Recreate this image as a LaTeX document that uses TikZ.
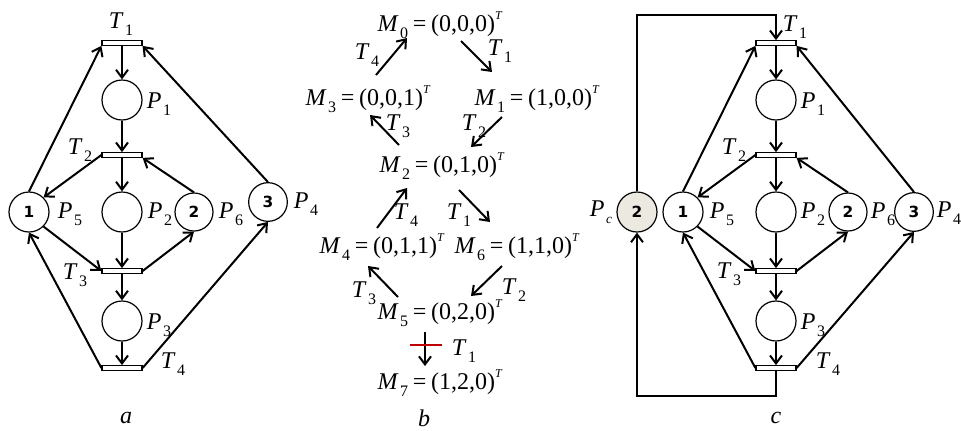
\documentclass[tikz,border=0pt]{standalone}
\usepackage{fontspec}
\setmainfont{Liberation Serif}
\newfontfamily\tokfont{DejaVu Sans}
\usetikzlibrary{arrows.meta}
\definecolor{blockred}{HTML}{C00000}
\definecolor{pcfill}{HTML}{ECE9E0}
\newcommand\sy[2]{\textit{#1}\kern1.2pt\raisebox{-5.5pt}{\fontsize{12}{12}\selectfont #2}}
\newcommand\mk[2]{\sy{M}{#1}\kern3.5pt=\kern3.5pt(#2)\raisebox{9pt}{\fontsize{9}{9}\selectfont\textit{T}}}
\begin{document}
\begin{tikzpicture}[x=0.75pt,y=-0.75pt,
  place/.style={circle,draw,line width=0.9pt,minimum size=30pt,inner sep=0pt,font=\tokfont\bfseries\fontsize{11.5}{11.5}\selectfont},
  trans/.style={rectangle,draw,line width=0.9pt,fill=white,minimum width=30pt,minimum height=3.4pt,inner sep=0pt},
  arc/.style={line width=1.5pt,-{Straight Barb[length=6pt,width=9pt,line width=1.5pt]}},
  lab/.style={font=\fontsize{18}{20}\selectfont,inner sep=0pt},
  blockbar/.style={draw=blockred,line width=2pt},
]
\useasboundingbox (0,0) rectangle (961,430);

% ---------------- panel a ----------------
\node[trans] (a1) at (122,43) {};
\node[place] (ap1) at (122,100) {};
\node[trans] (a2) at (122,155) {};
\node[place] (ap5) at (29,212) {1};
\node[place] (ap2) at (122,212) {};
\node[place,minimum size=28.5pt] (ap6) at (194,212) {2};
\node[place,minimum size=29pt] (ap4) at (268,202) {3};
\node[trans] (a3) at (122,271) {};
\node[place] (ap3) at (122,321) {};
\node[trans] (a4) at (122,368) {};

\draw[arc] (a1) -- (ap1);
\draw[arc] (ap5.north) -- (a1.south west);
\draw[arc] (ap4.north) -- (a1.south east);
\draw[arc] (ap1) -- (a2);
\draw[arc] (a2.west) -- (ap5.north east);
\draw[arc] (a2) -- (ap2);
\draw[arc] (ap6.north) -- (a2.south east);
\draw[arc] (ap5.south east) -- (a3.west);
\draw[arc] (ap2) -- (a3);
\draw[arc] (a3.east) -- (ap6.south);
\draw[arc] (a3) -- (ap3);
\draw[arc] (ap3) -- (a4);
\draw[arc] (a4.west) -- (ap5.south);
\draw[arc] (a4.east) -- (ap4.south);

\node[lab] (la1) at (121,24) {\sy{T}{1}};
\node[lab] (lap1) at (159,104) {\sy{P}{1}};
\node[lab] (la2) at (80,150) {\sy{T}{2}};
\node[lab] (lap5) at (70,214) {\sy{P}{5}};
\node[lab] (lap2) at (160,214) {\sy{P}{2}};
\node[lab] (lap6) at (231,214) {\sy{P}{6}};
\node[lab] (lap4) at (306,204) {\sy{P}{4}};
\node[lab] (la3) at (75,275) {\sy{T}{3}};
\node[lab] (lap3) at (159,325) {\sy{P}{3}};
\node[lab] (la4) at (173,364) {\sy{T}{4}};
\node[lab] (capa) at (126,418) {\textit{a}};

% ---------------- panel b ----------------
\node[lab] (m0) at (440,25) {\mk{0}{0,0,0}};
\node[lab] (m3) at (368,99) {\mk{3}{0,0,1}};
\node[lab] (m1) at (537,99) {\mk{1}{1,0,0}};
\node[lab] (m2) at (442,166) {\mk{2}{0,1,0}};
\node[lab] (m4) at (382,247) {\mk{4}{0,1,1}};
\node[lab] (m6) at (517,247) {\mk{6}{1,1,0}};
\node[lab] (m5) at (440,313) {\mk{5}{0,2,0}};
\node[lab] (m7) at (440,383) {\mk{7}{1,2,0}};

\coordinate (b1s) at (376,75);  \coordinate (b1e) at (407,38);
\coordinate (b2s) at (461,41);  \coordinate (b2e) at (492,72);
\coordinate (b3s) at (399,145); \coordinate (b3e) at (370,115);
\coordinate (b4s) at (502,117); \coordinate (b4e) at (471,147);
\coordinate (b5s) at (377,228); \coordinate (b5e) at (407,188);
\coordinate (b6s) at (459,190); \coordinate (b6e) at (490,222);
\coordinate (b7s) at (398,297); \coordinate (b7e) at (368,266);
\coordinate (b8s) at (502,266); \coordinate (b8e) at (471,296);
\coordinate (b9s) at (425,332); \coordinate (b9e) at (425,366);
\coordinate (rb1) at (410,345); \coordinate (rb2) at (442,345);

\draw[arc] (b1s) -- (b1e);
\draw[arc] (b2s) -- (b2e);
\draw[arc] (b3s) -- (b3e);
\draw[arc] (b4s) -- (b4e);
\draw[arc] (b5s) -- (b5e);
\draw[arc] (b6s) -- (b6e);
\draw[arc] (b7s) -- (b7e);
\draw[arc] (b8s) -- (b8e);
\draw[arc] (b9s) -- (b9e);
\draw[blockbar] (rb1) -- (rb2);

\node[lab] (lb1) at (367,55) {\sy{T}{4}};
\node[lab] (lb2) at (500,51) {\sy{T}{1}};
\node[lab] (lb3) at (398,126) {\sy{T}{3}};
\node[lab] (lb4) at (474,126) {\sy{T}{2}};
\node[lab] (lb5) at (406,215) {\sy{T}{4}};
\node[lab] (lb6) at (459,215) {\sy{T}{1}};
\node[lab] (lb7) at (364,293) {\sy{T}{3}};
\node[lab] (lb8) at (514,290) {\sy{T}{2}};
\node[lab] (lb9) at (464,351) {\sy{T}{1}};
\node[lab] (capb) at (424,418) {\textit{b}};

% ---------------- panel c ----------------
\node[trans] (c1) at (776,43) {};
\node[place] (cp1) at (776,100) {};
\node[trans] (c2) at (776,155) {};
\node[place,fill=pcfill] (cpc) at (637,212) {2};
\node[place] (cp5) at (683,212) {1};
\node[place] (cp2) at (776,212) {};
\node[place,minimum size=28.5pt] (cp6) at (848,212) {2};
\node[place,minimum size=29pt] (cp4) at (914,212) {3};
\node[trans] (c3) at (776,271) {};
\node[place] (cp3) at (776,321) {};
\node[trans] (c4) at (776,368) {};

\coordinate (ctl) at (637,15);
\coordinate (ctr) at (776,15);
\coordinate (cbl) at (637,396);
\coordinate (cbr) at (776,396);

\draw[arc] (c1) -- (cp1);
\draw[arc] (cp5.north) -- (c1.south west);
\draw[arc] (cp4.north) -- (c1.south east);
\draw[arc] (cp1) -- (c2);
\draw[arc] (c2.west) -- (cp5.north east);
\draw[arc] (c2) -- (cp2);
\draw[arc] (cp6.north) -- (c2.south east);
\draw[arc] (cp5.south east) -- (c3.west);
\draw[arc] (cp2) -- (c3);
\draw[arc] (c3.east) -- (cp6.south);
\draw[arc] (c3) -- (cp3);
\draw[arc] (cp3) -- (c4);
\draw[arc] (c4.west) -- (cp5.south);
\draw[arc] (c4.east) -- (cp4.south);
\draw[arc] (cpc) -- (ctl) -- (ctr) -- (c1);
\draw[arc] (c4) -- (cbr) -- (cbl) -- (cpc);

\node[lab] (lc1) at (795,27) {\sy{T}{1}};
\node[lab] (lcp1) at (813,104) {\sy{P}{1}};
\node[lab] (lc2) at (734,150) {\sy{T}{2}};
\node[lab] (lcpc) at (601,212) {\textit{P}\kern1.2pt\raisebox{-5.5pt}{\fontsize{10}{10}\selectfont\textit{c}}};
\node[lab] (lcp5) at (722,214) {\sy{P}{5}};
\node[lab] (lcp2) at (813,214) {\sy{P}{2}};
\node[lab] (lcp6) at (883,214) {\sy{P}{6}};
\node[lab] (lcp4) at (949,213) {\sy{P}{4}};
\node[lab] (lc3) at (729,274) {\sy{T}{3}};
\node[lab] (lcp3) at (813,325) {\sy{P}{3}};
\node[lab] (lc4) at (828,364) {\sy{T}{4}};
\node[lab] (capc) at (776,418) {\textit{c}};
\end{tikzpicture}
\end{document}
